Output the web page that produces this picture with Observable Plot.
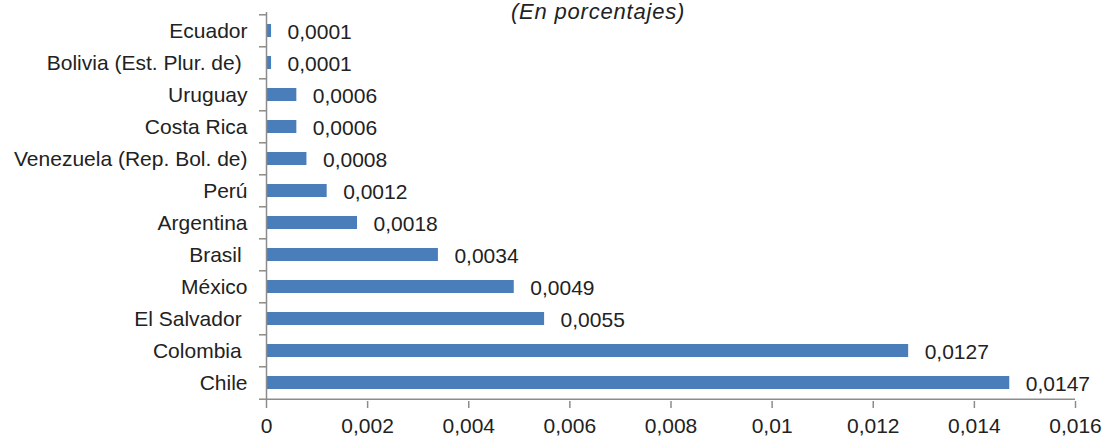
<!DOCTYPE html>
<html>
<head>
<meta charset="utf-8">
<script src="https://cdn.jsdelivr.net/npm/d3@7"></script>
<script src="https://cdn.jsdelivr.net/npm/@observablehq/plot@0.6"></script>
<style>
  html, body { margin: 0; padding: 0; background: #fff; }
  #wrap { position: relative; width: 1103px; height: 436px; overflow: hidden; }
  #subtitle { position: absolute; top: 0px; left: 0; width: 1196px; text-align: center;
    font: italic 22px "Liberation Sans", Arial, sans-serif; letter-spacing: 0.8px; color: #222; line-height: 24px; }
  #chart { position: absolute; top: 0; left: 0; }
</style>
</head>
<body>
<div id="wrap">
  <div id="chart"></div>
  <div id="subtitle">(En porcentajes)</div>
</div>
<script>
const subtitle = "(En porcentajes)";
const countries = ["Ecuador", "Bolivia (Est. Plur. de) ", "Uruguay", "Costa Rica", "Venezuela (Rep. Bol. de)", "Perú", "Argentina", "Brasil ", "México", "El Salvador ", "Colombia ", "Chile"];
const values = [0.0001, 0.0001, 0.0006, 0.0006, 0.0008, 0.0012, 0.0018, 0.0034, 0.0049, 0.0055, 0.0127, 0.0147];
const xTicks = [0, 0.002, 0.004, 0.006, 0.008, 0.01, 0.012, 0.014, 0.016];

const data = countries.map((c, i) => ({country: c, value: values[i]}));
const fmt = v => String(v).replace(".", ",");

const W = 1103, H = 436, mT = 12, mB = 35, mL = 266, mR = 28;
const step = (H - mT - mB) / countries.length;
const gray = "#8c8c8c";
const font = '"Liberation Sans", Arial, sans-serif';
const fs = 21;

const chart = Plot.plot({
  width: W, height: H,
  marginTop: mT, marginBottom: mB, marginLeft: mL, marginRight: mR,
  style: {fontFamily: font, fontSize: fs + "px", color: "#222", background: "#fff"},
  x: {domain: [0, 0.016]},
  y: {domain: countries, paddingInner: 0.58, paddingOuter: 0.29},
  marks: [
    Plot.barX(data, {x: "value", y: "country", fill: "#4a7ebb"}),
    Plot.text(data, {x: "value", y: "country", text: d => fmt(d.value), textAnchor: "start", dx: 16, dy: 1, fill: "#222", fontSize: fs}),
    Plot.axisY({tickSize: 0, tickPadding: 19, fontSize: fs, tickFormat: d => d.replace(/ $/, "\u00a0"), label: null}),
    Plot.axisY({tickSize: 7, text: null, dy: -step / 2, stroke: gray, strokeWidth: 1.5, label: null}),
    Plot.axisY(["Chile"], {tickSize: 7, text: null, dy: step / 2, stroke: gray, strokeWidth: 1.5, label: null}),
    Plot.axisX({ticks: xTicks, tickFormat: fmt, tickSize: 7, tickPadding: 10, stroke: gray, strokeWidth: 1.5, fontSize: fs, label: null}),
    Plot.ruleX([0], {stroke: gray, strokeWidth: 1.5}),
    Plot.ruleY(["Chile"], {y: d => d, x1: 0, x2: 0.016, dy: step / 2, stroke: gray, strokeWidth: 1.5})
  ]
});
document.getElementById("chart").appendChild(chart);
</script>
</body>
</html>
